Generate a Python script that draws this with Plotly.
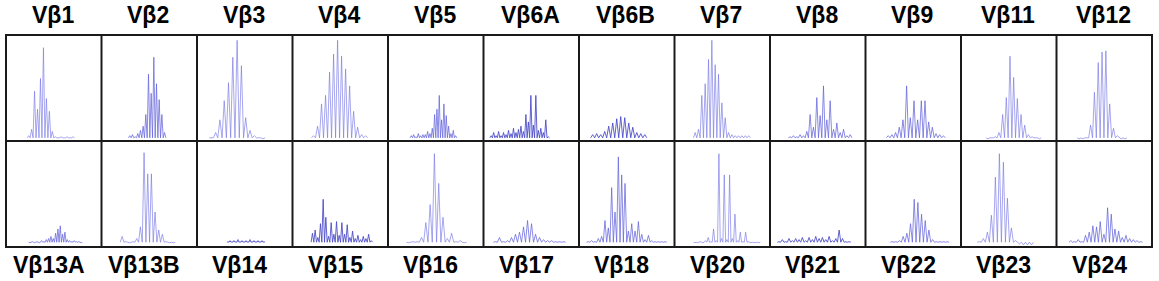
import plotly.graph_objects as go

# ---------------- data ----------------
labels_top = ["Vβ1", "Vβ2", "Vβ3", "Vβ4", "Vβ5", "Vβ6A", "Vβ6B", "Vβ7", "Vβ8", "Vβ9", "Vβ11", "Vβ12"]
labels_bottom = ["Vβ13A", "Vβ13B", "Vβ14", "Vβ15", "Vβ16", "Vβ17", "Vβ18", "Vβ20", "Vβ21", "Vβ22", "Vβ23", "Vβ24"]

# peak heights, % of panel height (consecutive CDR3 size peaks)
vb1 = [5, 11, 47, 30, 59, 88, 40, 28, 9, 4, 3, 4, 3, 4, 3, 4]
vb2 = [5, 6, 4, 7, 10, 14, 25, 63, 45, 79, 54, 39, 25, 8]
vb3 = [3, 8, 20, 38, 55, 79, 95, 71, 22, 10, 5, 3, 2]
vb4 = [5, 14, 35, 43, 65, 82, 95, 80, 68, 52, 28, 13, 6, 5]
vb5 = [5, 6, 4, 7, 5, 6, 6, 9, 7, 12, 25, 30, 43, 20, 35, 24, 14, 7, 10, 5]
vb6a = [5, 8, 5, 9, 5, 8, 6, 10, 7, 12, 8, 11, 14, 9, 25, 18, 43, 15, 43, 10, 12, 8, 20, 4]
vb6b = [6, 7, 6, 9, 14, 17, 21, 23, 22, 17, 13, 8, 7, 6]
vb7 = [8, 11, 43, 54, 77, 95, 72, 63, 36, 22, 8, 6, 5, 5, 5, 5, 5]
vb8 = [4, 5, 4, 6, 5, 9, 25, 13, 41, 24, 52, 20, 38, 11, 17, 8, 11, 5, 6]
vb9 = [5, 6, 8, 13, 20, 52, 22, 38, 20, 38, 38, 18, 13, 7, 6, 5]
vb11 = [2, 3, 4, 8, 25, 41, 80, 60, 40, 25, 15, 6, 4, 3, 2]
vb12 = [2, 2, 3, 15, 46, 74, 84, 85, 35, 12, 5, 2, 2]

vb13a = [4, 5, 4, 5, 4, 6, 5, 7, 8, 10, 8, 13, 17, 20, 12, 14, 7, 6, 5, 6, 5, 5, 4]
vb13b = [10, 5, 4, 5, 8, 19, 89, 69, 69, 33, 16, 12, 5, 4, 4]
vb14 = [5, 6, 5, 6, 5, 7, 5, 6, 5, 6, 5, 7, 5, 6, 5, 6, 5, 6, 5]
vb15 = [13, 16, 9, 22, 45, 28, 10, 23, 12, 24, 11, 23, 12, 21, 9, 15, 8, 11, 7, 10, 8, 12, 6]
vb16 = [4, 5, 5, 9, 23, 40, 88, 60, 28, 8, 13, 5, 6, 4]
vb17 = [5, 9, 5, 6, 9, 12, 14, 19, 25, 22, 12, 9, 7, 6, 6, 5, 5, 5]
vb18 = [5, 6, 5, 8, 10, 25, 18, 56, 33, 85, 68, 60, 15, 22, 15, 24, 12, 7, 11, 6, 5, 5, 5, 5]
vb20 = [4, 4, 5, 4, 6, 9, 5, 17, 6, 88, 8, 68, 7, 68, 8, 31, 6, 14, 5, 14, 5, 4, 4, 4, 4]
vb21 = [5, 7, 5, 8, 6, 8, 7, 9, 6, 9, 7, 10, 8, 9, 7, 10, 6, 8, 16, 8, 5, 5]
vb22 = [5, 5, 6, 10, 13, 22, 45, 42, 31, 25, 16, 7, 5, 5, 5, 5]
vb23 = [5, 8, 14, 30, 66, 88, 80, 46, 18, 6, 3, 2, 2, 2]
vb24 = [6, 5, 7, 5, 11, 14, 20, 19, 24, 12, 37, 31, 17, 15, 9, 11, 8, 7, 6, 5]

heights_top = [vb1, vb2, vb3, vb4, vb5, vb6a, vb6b, vb7, vb8, vb9, vb11, vb12]
heights_bottom = [vb13a, vb13b, vb14, vb15, vb16, vb17, vb18, vb20, vb21, vb22, vb23, vb24]

# size of first peak and spacing between peaks (% of the panel's size axis)
start_top = [23.7, 29.6, 15.0, 22.0, 24.4, 8.0, 14.3, 21.6, 21.0, 23.8, 28.2, 23.7]
step_top = [3.1, 2.8, 4.5, 4.2, 2.44, 2.6, 4.2, 3.5, 3.5, 3.85, 3.85, 4.0]
start_bottom = [25.1, 21.6, 32.4, 20.9, 21.6, 12.5, 9.7, 21.3, 9.4, 27.9, 19.2, 15.0]
step_bottom = [2.44, 3.83, 2.1, 2.8, 4.5, 4.2, 3.5, 2.8, 3.5, 3.85, 4.2, 3.85]

baseline = [3.0, 4.5]

# ---------------- styles ----------------
LIGHT = "rgba(120,120,230,0.65)"
MED = "rgba(100,100,220,0.75)"
DARK = "rgba(70,70,200,0.85)"
colors_top = [LIGHT, MED, LIGHT, LIGHT, MED, DARK, DARK, LIGHT, MED, MED, LIGHT, LIGHT]
colors_bottom = [MED, LIGHT, DARK, DARK, LIGHT, MED, MED, LIGHT, DARK, MED, LIGHT, MED]

W, H = 1159, 281
left_px, right_px = 6, 1152
top_px, mid_px, bot_px = 35, 141, 247
col_w = (right_px - left_px) / 12

fig = go.Figure()
layout = dict(
    width=W, height=H, margin=dict(l=0, r=0, t=0, b=0),
    paper_bgcolor="white", plot_bgcolor="white", showlegend=False,
)


def panel_trace(hts, start, step, base):
    xs, ys = [], []
    for j, h in enumerate(hts):
        p = start + j * step
        xs += [p - step / 2, p]
        ys += [base, h]
    xs.append(start + (len(hts) - 1) * step + step / 2)
    ys.append(base)
    return xs, ys


ax = 0
shapes = []
annotations = []
font = dict(family="Liberation Sans, Arial, sans-serif", size=23, color="black", weight="bold")
for row in range(2):
    if row == 0:
        hts_list, starts, steps, cols, labels = heights_top, start_top, step_top, colors_top, labels_top
        ydom = [1 - mid_px / H, 1 - top_px / H]
    else:
        hts_list, starts, steps, cols, labels = heights_bottom, start_bottom, step_bottom, colors_bottom, labels_bottom
        ydom = [1 - bot_px / H, 1 - mid_px / H]
    for c in range(12):
        ax += 1
        sfx = "" if ax == 1 else str(ax)
        x0 = (left_px + c * col_w) / W
        x1 = (left_px + (c + 1) * col_w) / W
        layout["xaxis" + sfx] = dict(domain=[x0, x1], range=[0, 100], visible=False, fixedrange=True)
        layout["yaxis" + sfx] = dict(domain=ydom, range=[0, 100], visible=False, fixedrange=True)
        xs, ys = panel_trace(hts_list[c], starts[c], steps[c], baseline[row])
        fig.add_trace(go.Scatter(
            x=xs, y=ys, mode="lines", xaxis="x" + sfx, yaxis="y" + sfx,
            line=dict(color=cols[c], width=1), hoverinfo="skip",
        ))
        cx = (left_px + (c + 0.5) * col_w) / W
        annotations.append(dict(
            text=labels[c], x=cx, y=1 - (15 if row == 0 else 265) / H,
            xref="paper", yref="paper", xanchor="center", yanchor="middle",
            showarrow=False, xshift=(-1 if row == 0 else -5), font=font,
        ))

# grid lines
line_style = dict(color="#1a1a1a", width=2)
shapes.append(dict(type="rect", xref="paper", yref="paper",
                   x0=left_px / W, x1=right_px / W, y0=1 - bot_px / H, y1=1 - top_px / H,
                   line=line_style))
shapes.append(dict(type="line", xref="paper", yref="paper",
                   x0=left_px / W, x1=right_px / W, y0=1 - mid_px / H, y1=1 - mid_px / H,
                   line=line_style))
for c in range(1, 12):
    xv = (left_px + c * col_w) / W
    shapes.append(dict(type="line", xref="paper", yref="paper",
                       x0=xv, x1=xv, y0=1 - bot_px / H, y1=1 - top_px / H, line=line_style))

layout["shapes"] = shapes
layout["annotations"] = annotations
fig.update_layout(**layout)
fig.write_html(
    "out.html",
    config={"displayModeBar": False, "staticPlot": True},
    post_script="document.body.style.margin='0';document.body.style.overflow='hidden';",
)
